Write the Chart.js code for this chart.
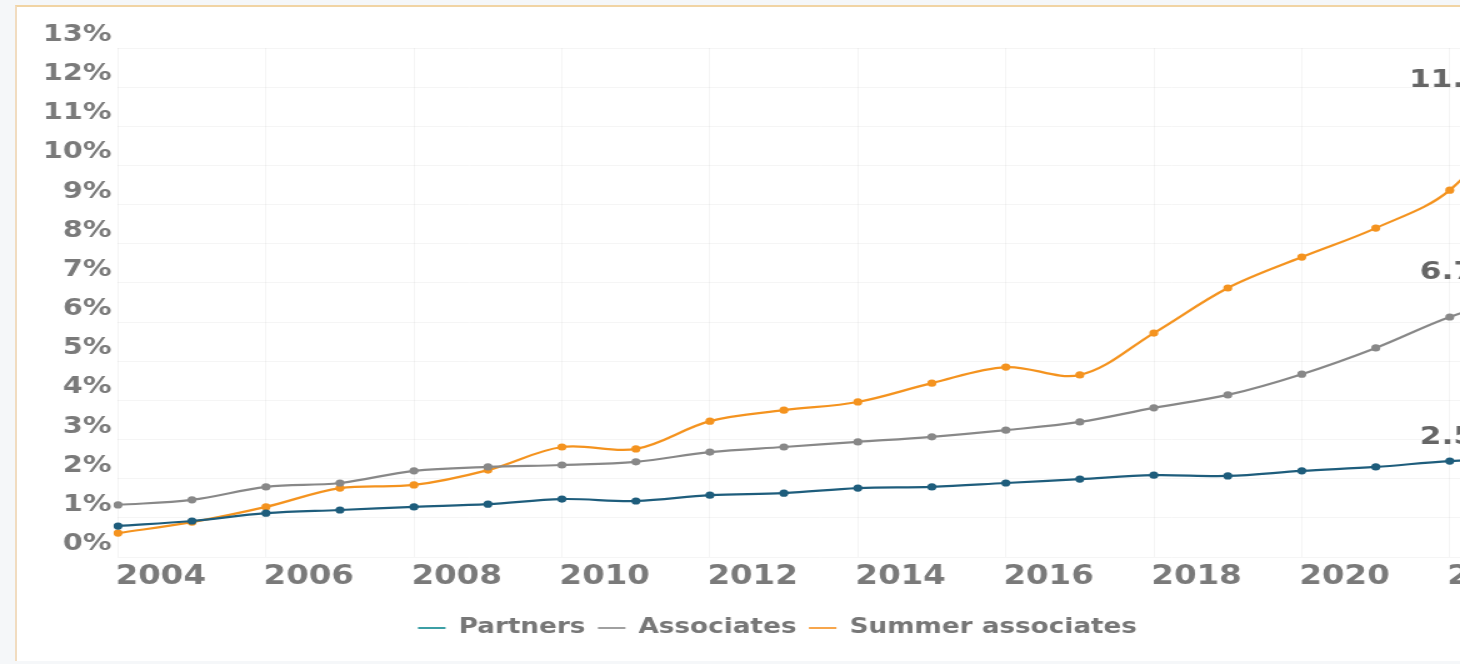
<!DOCTYPE html>
<html>
<head>
<meta charset="utf-8">
<script src="https://cdn.jsdelivr.net/npm/chart.js@4.4.1/dist/chart.umd.min.js"></script>
<style>
  html, body {
    margin: 0;
    width: 1473px;
    height: 664px;
    overflow: hidden;
    background: #f5f7f9;
  }
  .frame {
    position: absolute;
    left: 15px;
    top: 5px;
    width: 1600px;
    height: 654px;
    background: #fff;
    border-top: 2px solid #f1d4a4;
    border-left: 2px solid #f1dcc0;
  }
  .edge {
    position: absolute;
    left: 1460px;
    top: 0;
    width: 20px;
    height: 664px;
    background: #fff;
  }
  #lgbtq {
    position: absolute;
    left: 20px;
    top: 0;
    transform: scaleX(1.25);
    transform-origin: 0 0;
  }
</style>
</head>
<body>
<div class="frame"></div>
<canvas id="lgbtq" width="1263" height="664"></canvas>
<div class="edge"></div>
<script>
const years = [
  '2003', '2004', '2005', '2006', '2007', '2008', '2009',
  '2010', '2011', '2012', '2013', '2014', '2015', '2016',
  '2017', '2018', '2019', '2020', '2021', '2022'
];

const partners = [
  0.79, 0.92, 1.12, 1.2, 1.28, 1.35, 1.48, 1.43, 1.58, 1.63,
  1.76, 1.79, 1.89, 1.99, 2.09, 2.07, 2.2, 2.3, 2.45, 2.5
];

const associates = [
  1.33, 1.46, 1.79, 1.89, 2.2, 2.3, 2.35, 2.43, 2.68, 2.81,
  2.94, 3.07, 3.24, 3.45, 3.81, 4.14, 4.67, 5.34, 6.13, 6.7
];

const summerAssociates = [
  0.61, 0.89, 1.28, 1.76, 1.84, 2.22, 2.81, 2.76, 3.47, 3.75,
  3.96, 4.44, 4.85, 4.65, 5.72, 6.87, 7.66, 8.4, 9.37, 11.6
];

const percentTicks = [0, 1, 2, 3, 4, 5, 6, 7, 8, 9, 10, 11, 12, 13];

const lineColors = ['#1e5d7c', '#888888', '#f4931f'];
const legendColors = ['#3c9fa5', '#a0a0a0', '#f7a64c'];
const font = '"DejaVu Sans", sans-serif';

// latest value written above the end of each line
const endLabels = {
  id: 'endLabels',
  afterDatasetsDraw(chart) {
    const ctx = chart.ctx;
    ctx.save();
    ctx.font = 'bold 25px ' + font;
    ctx.fillStyle = '#666666';
    ctx.textAlign = 'center';
    ctx.textBaseline = 'middle';
    chart.data.datasets.forEach((dataset, i) => {
      const points = chart.getDatasetMeta(i).data;
      const last = points[points.length - 1];
      const value = dataset.data[dataset.data.length - 1];
      ctx.fillText(value.toFixed(1), last.x - 61, last.y - 22);
    });
    ctx.restore();
  }
};

const series = [
  { label: 'Partners', data: partners },
  { label: 'Associates', data: associates },
  { label: 'Summer associates', data: summerAssociates }
];

const datasets = series.map((s, i) => ({
  label: s.label,
  data: s.data,
  borderColor: lineColors[i],
  backgroundColor: legendColors[i],
  pointBackgroundColor: lineColors[i],
  pointBorderWidth: 0,
  pointRadius: 3.6,
  borderWidth: 2.2,
  tension: 0.35
}));

new Chart(document.getElementById('lgbtq'), {
  type: 'line',
  data: {
    labels: years,
    datasets: datasets
  },
  plugins: [endLabels],
  options: {
    responsive: false,
    animation: false,
    layout: {
      padding: { left: 9, right: 60, top: 48, bottom: 15.5 }
    },
    scales: {
      x: {
        type: 'category',
        afterFit: (scale) => { scale.height = 50.5; },
        border: { display: false },
        grid: {
          drawTicks: false,
          color: (ctx) => (ctx.index % 2 === 0 ? 'rgba(0,0,0,0.045)' : 'rgba(0,0,0,0)')
        },
        ticks: {
          autoSkip: false,
          maxRotation: 0,
          padding: 4.4,
          labelOffset: -25,
          color: '#7a7a7a',
          font: { family: font, size: 26, weight: 'bold' },
          callback: (value, index) => (Number(years[index]) % 2 === 0 ? years[index] : '')
        }
      },
      y: {
        min: percentTicks[0],
        max: percentTicks[percentTicks.length - 1],
        afterFit: (scale) => { scale.width = 69.4; },
        afterBuildTicks: (scale) => {
          scale.ticks = percentTicks.map((v) => ({ value: v }));
        },
        border: { display: false },
        grid: {
          drawTicks: false,
          color: 'rgba(0,0,0,0.04)'
        },
        ticks: {
          padding: 5,
          labelOffset: -13,
          color: '#7a7a7a',
          font: { family: font, size: 23, weight: 'bold' },
          callback: (value) => value + '%'
        }
      }
    },
    plugins: {
      legend: {
        position: 'bottom',
        labels: {
          boxWidth: 22,
          boxHeight: 2,
          padding: 10,
          color: '#777777',
          font: { family: font, size: 21, weight: 'bold' },
          generateLabels: (chart) =>
            Chart.defaults.plugins.legend.labels.generateLabels(chart).map((item) => ({
              ...item,
              fillStyle: legendColors[item.datasetIndex],
              strokeStyle: legendColors[item.datasetIndex],
              lineWidth: 0
            }))
        }
      },
      tooltip: { enabled: false }
    }
  }
});
</script>
</body>
</html>
